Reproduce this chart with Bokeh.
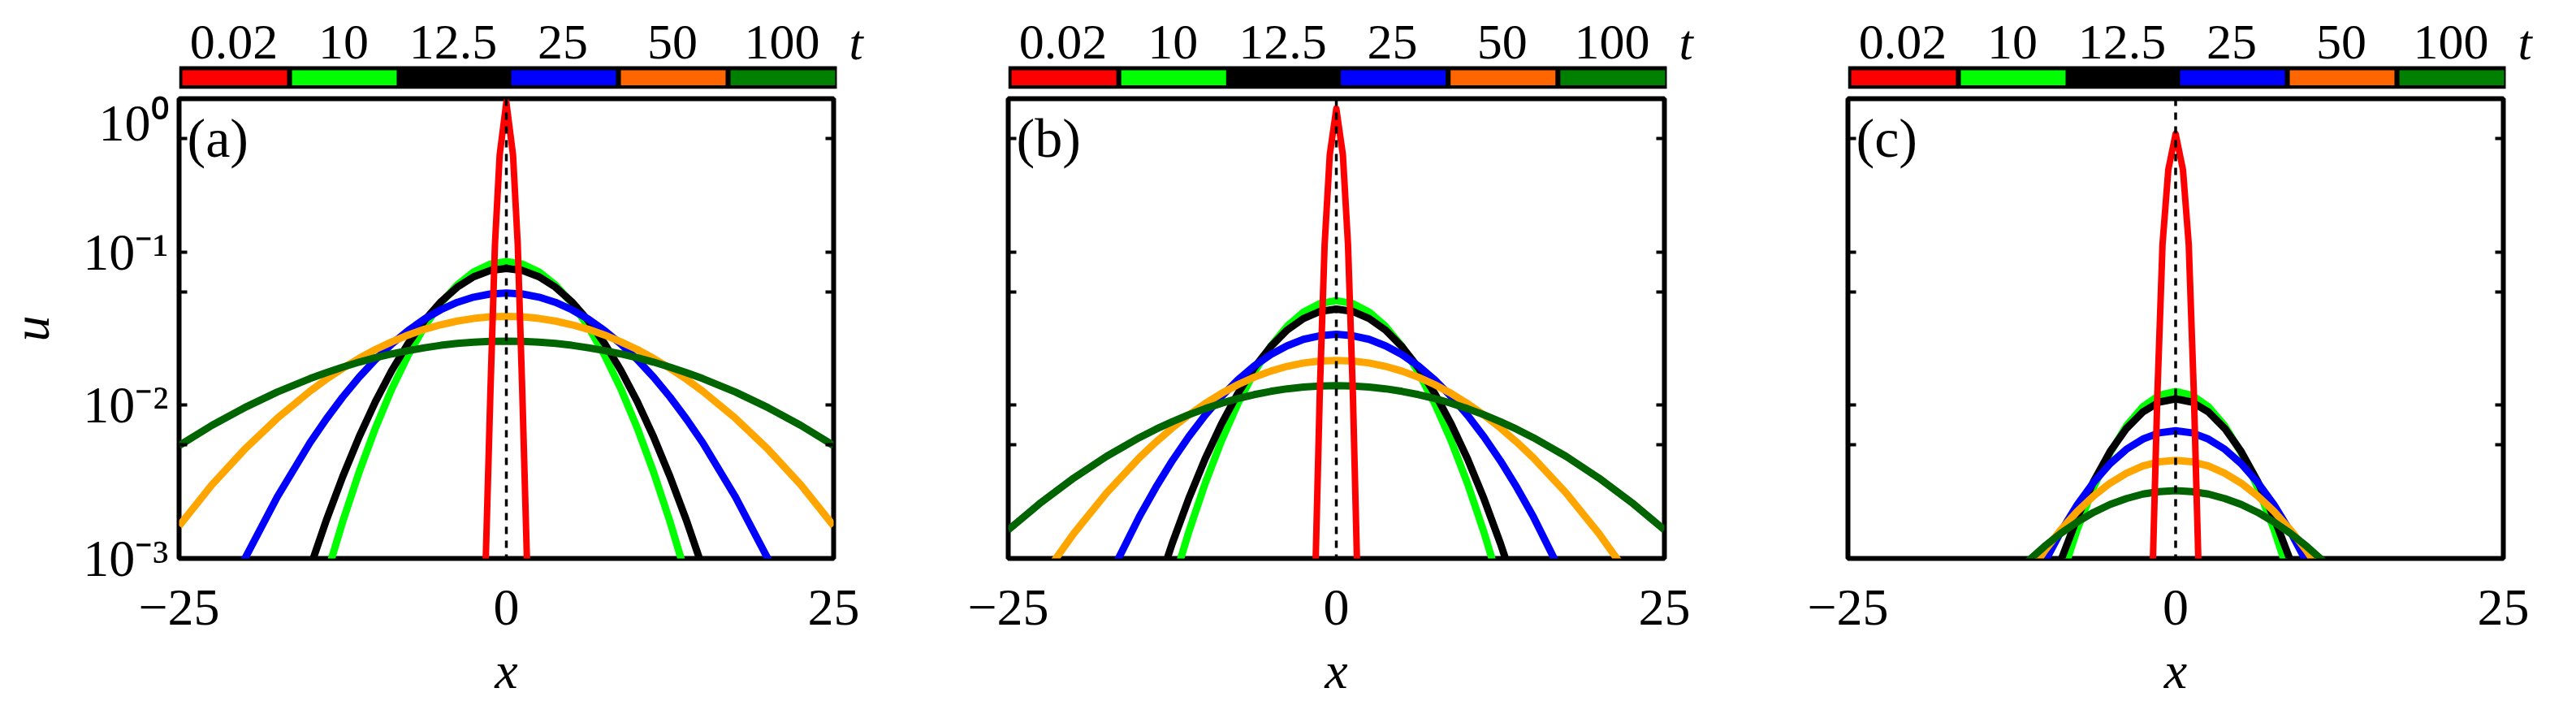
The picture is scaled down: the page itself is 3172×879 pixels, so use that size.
from bokeh.plotting import figure
from bokeh.layouts import row, column
from bokeh.models import Range1d, FixedTicker, LogAxis, Span, Label
from bokeh.core.properties import value
from bokeh.embed import file_html
from bokeh.resources import INLINE

FONT = "Liberation Serif"

# ---------------- data ----------------
T_LABELS = ["0.02", "10", "12.5", "25", "50", "100"]
BAR_COLORS = ["#ff0000", "#00ff00", "#000000", "#0000ff", "#ff6600", "#008000"]
CURVE_COLORS = ["#00ff00", "#000000", "#0000ff", "#ffa500", "#006400"]   # t = 10, 12.5, 25, 50, 100
RED = "#ff0000"                                                          # t = 0.02

X_WIDE = [-25.0, -22.5, -20.0, -17.5, -15.0, -13.75, -12.5, -11.25, -10.0, -8.75, -7.5, -6.25, -5.0,
          -3.75, -2.5, -1.25, 0.0, 1.25, 2.5, 3.75, 5.0, 6.25, 7.5, 8.75, 10.0, 11.25, 12.5, 13.75,
          15.0, 17.5, 20.0, 22.5, 25.0]
X_NARROW = [-12.5, -11.25, -10.0, -8.75, -7.5, -6.25, -5.0, -3.75, -2.5, -1.25, 0.0,
            1.25, 2.5, 3.75, 5.0, 6.25, 7.5, 8.75, 10.0, 11.25, 12.5]

# panel (a)
A_T10 = [1.4e-8, 2.8e-7, 3.9e-6, 4.1e-5, 3.12e-4, 7.66e-4, 1.74e-3, 3.65e-3, 7.10e-3, 1.276e-2, 2.12e-2,
         3.26e-2, 4.63e-2, 6.09e-2, 7.40e-2, 8.32e-2, 8.65e-2, 8.32e-2, 7.40e-2, 6.09e-2, 4.63e-2,
         3.26e-2, 2.12e-2, 1.276e-2, 7.10e-3, 3.65e-3, 1.74e-3, 7.66e-4, 3.12e-4, 4.1e-5, 3.9e-6,
         2.8e-7, 1.4e-8]
A_T12_5 = [2.9e-7, 3.1e-6, 2.6e-5, 1.71e-4, 8.66e-4, 1.778e-3, 3.42e-3, 6.20e-3, 1.055e-2, 1.687e-2,
           2.53e-2, 3.57e-2, 4.73e-2, 5.89e-2, 6.88e-2, 7.56e-2, 7.80e-2, 7.56e-2, 6.88e-2, 5.89e-2,
           4.73e-2, 3.57e-2, 2.53e-2, 1.687e-2, 1.055e-2, 6.20e-3, 3.42e-3, 1.778e-3, 8.66e-4, 1.71e-4,
           2.6e-5, 3.1e-6, 2.9e-7]
A_T25 = [1.04e-4, 3.42e-4, 9.88e-4, 2.52e-3, 5.69e-3, 8.14e-3, 1.131e-2, 1.522e-2, 1.984e-2, 2.51e-2,
         3.07e-2, 3.65e-2, 4.20e-2, 4.69e-2, 5.07e-2, 5.31e-2, 5.40e-2, 5.31e-2, 5.07e-2, 4.69e-2,
         4.20e-2, 3.65e-2, 3.07e-2, 2.51e-2, 1.984e-2, 1.522e-2, 1.131e-2, 8.14e-3, 5.69e-3, 2.52e-3,
         9.88e-4, 3.42e-4, 1.04e-4]
A_T50 = [1.63e-3, 3.02e-3, 5.14e-3, 8.22e-3, 1.234e-2, 1.477e-2, 1.74e-2, 2.02e-2, 2.31e-2, 2.59e-2,
         2.87e-2, 3.13e-2, 3.35e-2, 3.54e-2, 3.68e-2, 3.77e-2, 3.80e-2, 3.77e-2, 3.68e-2, 3.54e-2,
         3.35e-2, 3.13e-2, 2.87e-2, 2.59e-2, 2.31e-2, 2.02e-2, 1.74e-2, 1.477e-2, 1.234e-2, 8.22e-3,
         5.14e-3, 3.02e-3, 1.63e-3]
A_T100 = [5.45e-3, 7.38e-3, 9.63e-3, 1.218e-2, 1.492e-2, 1.632e-2, 1.77e-2, 1.91e-2, 2.04e-2, 2.16e-2,
          2.27e-2, 2.37e-2, 2.46e-2, 2.53e-2, 2.58e-2, 2.61e-2, 2.62e-2, 2.61e-2, 2.58e-2, 2.53e-2,
          2.46e-2, 2.37e-2, 2.27e-2, 2.16e-2, 2.04e-2, 1.91e-2, 1.77e-2, 1.632e-2, 1.492e-2, 1.218e-2,
          9.63e-3, 7.38e-3, 5.45e-3]
A_RED_X = [-2.0, -1.57, -1.22, -0.87, -0.51, 0.0, 0.51, 0.87, 1.22, 1.57, 2.0]
A_RED_U = [1e-4, 1e-3, 1.2e-2, 0.112, 0.43, 0.95, 0.43, 0.112, 1.2e-2, 1e-3, 1e-4]

# panel (b)
B_T10 = [1.7e-9, 4.4e-8, 8.0e-7, 1.0e-5, 9.9e-5, 2.66e-4, 6.55e-4, 1.482e-3, 3.08e-3, 5.86e-3, 1.024e-2,
         1.643e-2, 2.42e-2, 3.27e-2, 4.05e-2, 4.61e-2, 4.81e-2, 4.61e-2, 4.05e-2, 3.27e-2, 2.42e-2,
         1.643e-2, 1.024e-2, 5.86e-3, 3.08e-3, 1.482e-3, 6.55e-4, 2.66e-4, 9.9e-5, 1.0e-5, 8.0e-7,
         4.4e-8, 1.7e-9]
B_T12_5 = [3.3e-8, 4.7e-7, 5.2e-6, 4.3e-5, 2.67e-4, 6.0e-4, 1.256e-3, 2.45e-3, 4.46e-3, 7.55e-3, 1.194e-2,
           1.758e-2, 2.41e-2, 3.09e-2, 3.68e-2, 4.09e-2, 4.24e-2, 4.09e-2, 3.68e-2, 3.09e-2, 2.41e-2,
           1.758e-2, 1.194e-2, 7.55e-3, 4.46e-3, 2.45e-3, 1.256e-3, 6.0e-4, 2.67e-4, 4.3e-5, 5.2e-6,
           4.7e-7, 3.3e-8]
B_T25 = [1.45e-5, 6.2e-5, 2.24e-4, 7.0e-4, 1.88e-3, 2.91e-3, 4.34e-3, 6.22e-3, 8.59e-3, 1.142e-2, 1.462e-2,
         1.803e-2, 2.14e-2, 2.44e-2, 2.69e-2, 2.84e-2, 2.90e-2, 2.84e-2, 2.69e-2, 2.44e-2, 2.14e-2,
         1.803e-2, 1.462e-2, 1.142e-2, 8.59e-3, 6.22e-3, 4.34e-3, 2.91e-3, 1.88e-3, 7.0e-4, 2.24e-4,
         6.2e-5, 1.45e-5]
B_T50 = [3.38e-4, 7.31e-4, 1.458e-3, 2.68e-3, 4.55e-3, 5.74e-3, 7.11e-3, 8.62e-3, 1.025e-2, 1.194e-2,
         1.362e-2, 1.523e-2, 1.669e-2, 1.792e-2, 1.886e-2, 1.943e-2, 1.96e-2, 1.943e-2, 1.886e-2, 1.792e-2,
         1.669e-2, 1.523e-2, 1.362e-2, 1.194e-2, 1.025e-2, 8.62e-3, 7.11e-3, 5.74e-3, 4.55e-3, 2.68e-3,
         1.458e-3, 7.31e-4, 3.38e-4]
B_T100 = [1.535e-3, 2.32e-3, 3.35e-3, 4.64e-3, 6.15e-3, 6.97e-3, 7.81e-3, 8.66e-3, 9.49e-3, 1.03e-2,
          1.105e-2, 1.173e-2, 1.231e-2, 1.279e-2, 1.314e-2, 1.335e-2, 1.34e-2, 1.335e-2, 1.314e-2, 1.279e-2,
          1.231e-2, 1.173e-2, 1.105e-2, 1.03e-2, 9.49e-3, 8.66e-3, 7.81e-3, 6.97e-3, 6.15e-3, 4.64e-3,
          3.35e-3, 2.32e-3, 1.535e-3]
B_RED_X = [-2.0, -1.57, -1.26, -0.89, -0.50, 0.0, 0.50, 0.89, 1.26, 1.57, 2.0]
B_RED_U = [1e-4, 1e-3, 1.2e-2, 0.112, 0.43, 0.86, 0.43, 0.112, 1.2e-2, 1e-3, 1e-4]

# panel (c)
C_T10 = [3.9e-5, 1.16e-4, 3.09e-4, 7.33e-4, 1.55e-3, 2.92e-3, 4.90e-3, 7.33e-3, 9.77e-3, 1.161e-2, 1.23e-2,
         1.161e-2, 9.77e-3, 7.33e-3, 4.90e-3, 2.92e-3, 1.55e-3, 7.33e-4, 3.09e-4, 1.16e-4, 3.9e-5]
C_T12_5 = [7.8e-5, 1.99e-4, 4.62e-4, 9.72e-4, 1.85e-3, 3.19e-3, 4.98e-3, 7.05e-3, 9.03e-3, 1.048e-2, 1.10e-2,
           1.048e-2, 9.03e-3, 7.05e-3, 4.98e-3, 3.19e-3, 1.85e-3, 9.72e-4, 4.62e-4, 1.99e-4, 7.8e-5]
C_T25 = [3.10e-4, 5.58e-4, 9.43e-4, 1.50e-3, 2.24e-3, 3.14e-3, 4.15e-3, 5.16e-3, 6.01e-3, 6.60e-3, 6.81e-3,
         6.60e-3, 6.01e-3, 5.16e-3, 4.15e-3, 3.14e-3, 2.24e-3, 1.50e-3, 9.43e-4, 5.58e-4, 3.10e-4]
C_T50 = [5.19e-4, 7.78e-4, 1.12e-3, 1.54e-3, 2.03e-3, 2.56e-3, 3.10e-3, 3.60e-3, 4.01e-3, 4.27e-3, 4.37e-3,
         4.27e-3, 4.01e-3, 3.60e-3, 3.10e-3, 2.56e-3, 2.03e-3, 1.54e-3, 1.12e-3, 7.78e-4, 5.19e-4]
C_T100 = [7.52e-4, 9.63e-4, 1.20e-3, 1.46e-3, 1.73e-3, 2.00e-3, 2.25e-3, 2.46e-3, 2.63e-3, 2.73e-3, 2.77e-3,
          2.73e-3, 2.63e-3, 2.46e-3, 2.25e-3, 2.00e-3, 1.73e-3, 1.46e-3, 1.20e-3, 9.63e-4, 7.52e-4]
C_RED_X = [-2.1, -1.73, -1.39, -1.0, -0.56, 0.0, 0.56, 1.0, 1.39, 1.73, 2.1]
C_RED_U = [1e-4, 1e-3, 1.2e-2, 0.112, 0.344, 0.59, 0.344, 0.112, 1.2e-2, 1e-3, 1e-4]

Y_MAJOR = [1e-3, 1e-2, 1e-1, 1.0]
Y_MAJOR_LABELS = ["10\u207b\u00b3", "10\u207b\u00b2", "10\u207b\u00b9", "10\u2070"]
Y_MINOR = [5.5e-3, 5.5e-2, 0.55]
X_TICKS = [-25, 0, 25]
X_TICK_LABELS = ["\u221225", "0", "25"]

BAR_H = 28      # px height of the colour bar
EXT = 70        # px of extra frame to the right of the bar (room for "t")
LABEL_Y = 2.04  # label centre, in bar heights above the bar bottom


def colorbar(left, bar_w, right):
    ppu = bar_w / 6.0
    cb = figure(frame_width=bar_w + EXT, frame_height=101,
                x_range=Range1d(0, 6 + EXT / ppu), y_range=Range1d(0, 101.0 / BAR_H),
                min_border_left=left, min_border_right=right - EXT,
                min_border_top=8, min_border_bottom=6, output_backend="svg", toolbar_location=None)
    cb.background_fill_color = "white"
    cb.border_fill_color = "white"
    cb.outline_line_color = None
    cb.grid.visible = False
    cb.xaxis.visible = False
    cb.yaxis.visible = False
    idx = list(range(len(T_LABELS)))
    cb.quad(left=[0], right=[6], bottom=[0], top=[1], fill_color="black", line_color=None)
    cb.quad(left=[i + 0.03 for i in idx], right=[i + 0.985 for i in idx], bottom=0.164, top=0.82,
            fill_color=BAR_COLORS, line_color=None)
    cb.text(x=[i + 0.5 for i in idx], y=[LABEL_Y] * len(idx), text=T_LABELS,
            text_font=value(FONT), text_font_size=value("62px"), text_color="black",
            text_align="center", text_baseline="middle")
    cb.text(x=[6 + 15 / ppu], y=[LABEL_Y], text=["t"], text_font=value(FONT), text_font_size=value("62px"),
            text_font_style="italic", text_color="black", text_align="left", text_baseline="middle")
    return cb


def panel(letter, xs, series, red_x, red_u, left, frame_w, right, show_labels):
    p = figure(frame_width=frame_w, frame_height=566, x_range=Range1d(-25, 25), y_range=Range1d(1e-3, 1),
               y_axis_type="log", min_border_left=left, min_border_right=right, min_border_top=6,
               min_border_bottom=176, output_backend="svg", toolbar_location=None)
    p.grid.visible = False
    p.outline_line_color = "black"
    p.outline_line_width = 6
    p.background_fill_color = "white"
    p.border_fill_color = "white"
    for ys, c in zip(series, CURVE_COLORS):
        p.line(xs, ys, line_color=c, line_width=9)
    p.line(red_x, red_u, line_color=RED, line_width=8, line_join="round")
    p.add_layout(Span(location=0, dimension="height", line_color="black", line_width=3.5, line_dash="9 8"))

    yticks = sorted(Y_MAJOR + Y_MINOR)
    yax = p.yaxis[0]
    yax.ticker = FixedTicker(ticks=yticks)
    ov = {t: "" for t in yticks}
    if show_labels:
        ov.update(dict(zip(Y_MAJOR, Y_MAJOR_LABELS)))
        yax.axis_label = "u"
        yax.axis_label_text_font = FONT
        yax.axis_label_text_font_size = "64px"
        yax.axis_label_text_font_style = "italic"
        yax.axis_label_text_color = "black"
        yax.axis_label_standoff = 25
    yax.major_label_overrides = ov
    yax.major_label_text_font = FONT
    yax.major_label_text_font_size = "64px"
    yax.major_label_text_color = "black"
    yax.major_label_standoff = 13
    yax.major_tick_in = 10
    yax.major_tick_out = 0
    yax.minor_tick_out = 0
    yax.major_tick_line_width = 4
    yax.minor_tick_line_color = None
    yax.axis_line_color = None

    rax = LogAxis(ticker=FixedTicker(ticks=yticks), major_label_overrides={t: "" for t in yticks},
                  major_tick_in=10, major_tick_out=0, major_tick_line_width=4, minor_tick_out=0,
                  minor_tick_line_color=None, axis_line_color=None, major_label_text_font_size="10px")
    p.add_layout(rax, "right")

    xax = p.xaxis[0]
    xax.ticker = FixedTicker(ticks=X_TICKS)
    xax.major_label_overrides = dict(zip(X_TICKS, X_TICK_LABELS))
    xax.major_label_text_font = FONT
    xax.major_label_text_font_size = "64px"
    xax.major_label_text_color = "black"
    xax.major_label_standoff = 33
    xax.major_tick_line_color = None
    xax.minor_tick_line_color = None
    xax.axis_line_color = None
    xax.axis_label = "x"
    xax.axis_label_text_font = FONT
    xax.axis_label_text_font_size = "64px"
    xax.axis_label_text_font_style = "italic"
    xax.axis_label_text_color = "black"
    xax.axis_label_standoff = 18

    p.add_layout(Label(x=-25, y=1, x_offset=10, y_offset=-10, text=letter, text_font=FONT,
                       text_font_size="68px", text_baseline="top", text_align="left", text_color="black"))
    return p


pa = panel("(a)", X_WIDE, [A_T10, A_T12_5, A_T25, A_T50, A_T100], A_RED_X, A_RED_U, 220, 806, 104, True)
pb = panel("(b)", X_WIDE, [B_T10, B_T12_5, B_T25, B_T50, B_T100], B_RED_X, B_RED_U, 111, 808, 111, False)
pc = panel("(c)", X_NARROW, [C_T10, C_T12_5, C_T25, C_T50, C_T100], C_RED_X, C_RED_U, 115, 807, 74, False)

cba = colorbar(218, 810, 102)
cbb = colorbar(110, 811, 109)
cbc = colorbar(113, 810, 73)

layout = row(column(cba, pa, spacing=0), column(cbb, pb, spacing=0), column(cbc, pc, spacing=0), spacing=0)

open("out.html", "w").write(file_html(layout, INLINE, "u(x,t)"))
